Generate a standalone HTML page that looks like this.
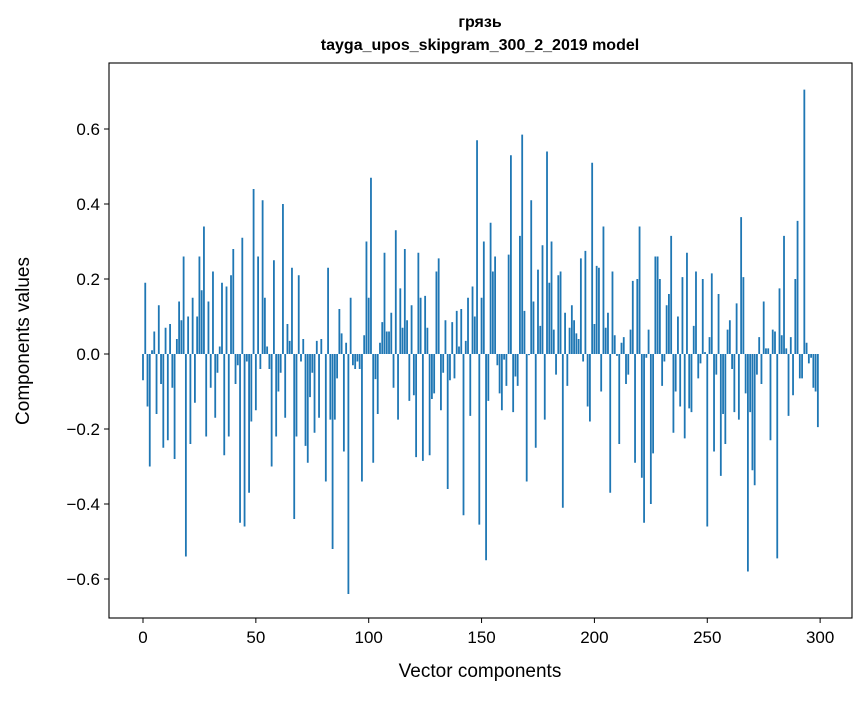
<!DOCTYPE html>
<html><head><meta charset="utf-8"><style>
body{margin:0;background:#fff;}
svg text{font-family:"Liberation Sans","DejaVu Sans",sans-serif;}
</style></head><body>
<svg id="chart" width="867" height="696" xmlns="http://www.w3.org/2000/svg">
<rect width="867" height="696" fill="#fff"/>
<text x="480" y="27" text-anchor="middle" font-size="16" font-weight="bold">грязь</text>
<text x="480" y="50" text-anchor="middle" font-size="16" font-weight="bold">tayga_upos_skipgram_300_2_2019 model</text>
<g id="bars"></g>
<g id="axes"></g>
<text x="480" y="677" text-anchor="middle" font-size="19">Vector components</text>
<text x="0" y="0" transform="translate(29,341) rotate(-90)" text-anchor="middle" font-size="19">Components values</text>
</svg>
<script>
const values = [
-0.07,0.19,-0.14,-0.30,0.01,0.06,-0.16,0.13,-0.08,-0.25,
0.07,-0.23,0.08,-0.09,-0.28,0.04,0.14,0.09,0.26,-0.54,
0.10,-0.24,0.15,-0.13,0.10,0.26,0.17,0.34,-0.22,0.14,
-0.09,0.22,-0.17,-0.05,0.02,0.19,-0.27,0.18,-0.22,0.21,
0.28,-0.08,-0.03,-0.45,0.31,-0.46,-0.02,-0.37,-0.18,0.44,
-0.15,0.26,-0.04,0.41,0.15,0.02,-0.04,-0.30,0.25,-0.22,
-0.10,-0.05,0.40,-0.17,0.08,0.035,0.23,-0.44,-0.22,0.21,
-0.02,0.04,-0.245,-0.29,-0.115,-0.05,-0.21,0.035,-0.17,0.04,
0.0,-0.34,0.23,-0.175,-0.52,-0.175,-0.065,0.12,0.055,-0.26,
0.03,-0.64,0.15,-0.03,-0.04,-0.02,-0.04,-0.34,0.05,0.30,
0.15,0.47,-0.29,-0.067,-0.16,0.03,0.085,0.27,0.06,0.06,
0.11,-0.09,0.33,-0.175,0.175,0.07,0.28,0.09,-0.125,0.13,
-0.11,-0.275,0.27,0.15,-0.285,0.155,0.07,-0.27,-0.12,-0.105,
0.22,0.255,-0.15,-0.05,0.09,-0.36,-0.07,0.085,-0.065,0.115,
0.02,0.12,-0.43,0.035,0.15,-0.165,0.18,0.10,0.57,-0.455,
0.15,0.30,-0.55,-0.125,0.35,0.22,0.26,-0.03,-0.105,-0.15,
-0.015,-0.085,0.265,0.53,-0.155,-0.06,-0.085,0.315,0.585,0.115,
-0.34,-0.003,0.41,0.14,-0.25,0.225,0.075,0.29,-0.175,0.54,
0.19,0.30,0.065,-0.055,0.21,0.22,-0.41,0.11,-0.085,0.07,
0.13,0.09,0.055,0.04,0.255,-0.02,0.275,-0.14,-0.18,0.51,
0.08,0.235,0.23,-0.10,0.34,0.07,0.11,-0.37,0.22,0.05,
-0.005,-0.24,0.03,0.045,-0.08,-0.055,0.065,0.195,-0.29,0.20,
0.34,-0.33,-0.45,-0.01,0.065,-0.40,-0.265,0.26,0.26,0.20,
-0.085,-0.02,0.13,0.16,0.315,-0.21,-0.10,0.10,-0.14,0.205,
-0.225,0.27,-0.145,-0.155,0.075,0.22,-0.065,-0.025,0.20,0.005,
-0.46,0.045,0.215,-0.26,-0.055,0.16,-0.325,-0.16,-0.24,0.065,
0.09,-0.04,-0.155,0.135,-0.175,0.365,0.205,-0.105,-0.58,-0.155,
-0.31,-0.35,-0.055,0.045,-0.08,0.14,0.015,0.015,-0.23,0.065,
0.06,-0.545,0.175,0.05,0.315,0.015,-0.165,0.045,-0.11,0.20,
0.355,-0.065,-0.065,0.705,0.03,-0.025,-0.01,-0.09,-0.10,-0.195
];
const yTicks = [-0.6,-0.4,-0.2,0.0,0.2,0.4,0.6];
const yTickLabels = ["\u22120.6","\u22120.4","\u22120.2","0.0","0.2","0.4","0.6"];
const xTicks = [0,50,100,150,200,250,300];
const xTickLabels = ["0","50","100","150","200","250","300"];

const L=109,R=852,T=63,B=618;
const xMin=-15.06,xMax=314.12,yMin=-0.704,yMax=0.776;
const sx=v=>L+(v-xMin)/(xMax-xMin)*(R-L);
const sy=v=>B-(v-yMin)/(yMax-yMin)*(B-T);
const NS="http://www.w3.org/2000/svg";
const bars=document.getElementById('bars');
const axes=document.getElementById('axes');
values.forEach((v,i)=>{
  const r=document.createElementNS(NS,'rect');
  const x0=sx(i-0.4),x1=sx(i+0.4);
  const y0=sy(Math.max(v,0)),y1=sy(Math.min(v,0));
  r.setAttribute('x',x0);r.setAttribute('width',x1-x0);
  r.setAttribute('y',y0);r.setAttribute('height',Math.max(y1-y0,0));
  r.setAttribute('fill','#1f77b4');
  
  
  bars.appendChild(r);
});
const frame=document.createElementNS(NS,'rect');
frame.setAttribute('x',L);frame.setAttribute('y',T);
frame.setAttribute('width',R-L);frame.setAttribute('height',B-T);
frame.setAttribute('fill','none');frame.setAttribute('stroke','#000');frame.setAttribute('stroke-width','1.1');


axes.appendChild(frame);
yTicks.forEach((t,i)=>{
  const y=sy(t);
  const ln=document.createElementNS(NS,'line');
  ln.setAttribute('x1',L-5);ln.setAttribute('x2',L);ln.setAttribute('y1',y);ln.setAttribute('y2',y);ln.setAttribute('stroke','#000');
  
  
  axes.appendChild(ln);
  const tx=document.createElementNS(NS,'text');
  tx.setAttribute('x',L-9);tx.setAttribute('y',y+6);tx.setAttribute('text-anchor','end');tx.setAttribute('font-size','17');
  tx.textContent=yTickLabels[i];
  
  
  axes.appendChild(tx);
});
xTicks.forEach((t,i)=>{
  const x=sx(t);
  const ln=document.createElementNS(NS,'line');
  ln.setAttribute('x1',x);ln.setAttribute('x2',x);ln.setAttribute('y1',B);ln.setAttribute('y2',B+5);ln.setAttribute('stroke','#000');
  
  
  axes.appendChild(ln);
  const tx=document.createElementNS(NS,'text');
  tx.setAttribute('x',x);tx.setAttribute('y',B+25);tx.setAttribute('text-anchor','middle');tx.setAttribute('font-size','17');
  tx.textContent=xTickLabels[i];
  
  
  axes.appendChild(tx);
});
</script>
</body></html>
